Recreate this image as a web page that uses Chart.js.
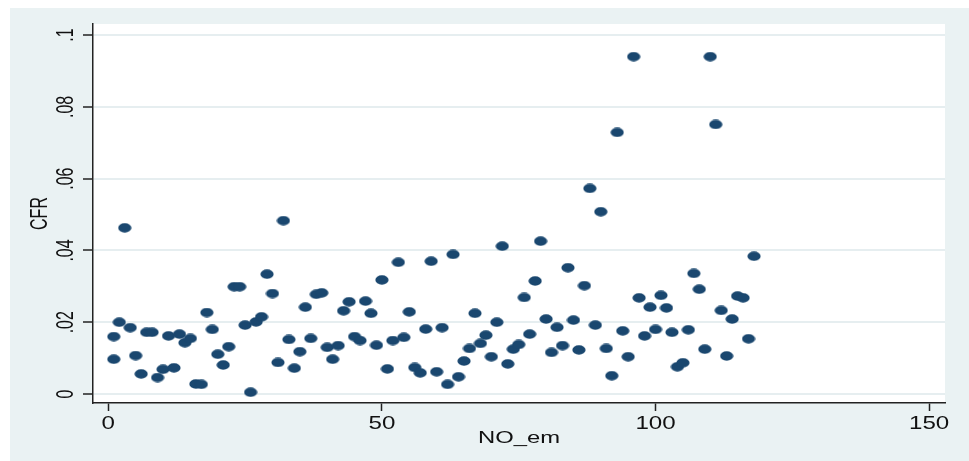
<!DOCTYPE html>
<html>
<head>
<meta charset="utf-8">
<title>CFR vs NO_em</title>
<script src="https://cdn.jsdelivr.net/npm/chart.js@4.4.1/dist/chart.umd.min.js"></script>
<style>
  html, body { margin: 0; padding: 0; background: #ffffff; }
  #wrap {
    position: absolute;
    left: 10px;
    top: 8px;
    width: 959px;
    height: 453px;
    background: #eaf2f3;
  }
</style>
</head>
<body>
<div id="wrap"><canvas id="cfrChart" width="959" height="453"></canvas></div>
<script>
// data
const xValues = [
  1, 1, 2, 3, 4, 5, 6, 7, 8, 9, 10, 11, 12, 13, 14, 15, 16, 17, 18, 19, 20,
  21, 22, 23, 24, 25, 26, 27, 28, 29, 30, 31, 32, 33, 34, 35, 36, 37, 38, 39, 40,
  41, 42, 43, 44, 45, 46, 47, 48, 49, 50, 51, 52, 53, 54, 55, 56, 57, 58, 59, 60,
  61, 62, 63, 64, 65, 66, 67, 68, 69, 70, 71, 72, 73, 74, 75, 76, 77, 78, 79, 80,
  81, 82, 83, 84, 85, 86, 87, 88, 89, 90, 91, 92, 93, 94, 95, 96, 97, 98, 99, 100,
  101, 102, 103, 104, 105, 106, 107, 108, 109, 110, 111, 112, 113, 114, 115, 116, 117, 118
];
const cfrValues = [
  0.0160, 0.0097, 0.0200, 0.0463, 0.0185, 0.0107, 0.0056, 0.0172, 0.0172, 0.0046, 0.0069,
  0.0162, 0.0073, 0.0167, 0.0143, 0.0155, 0.0028, 0.0027, 0.0227, 0.0180, 0.0111,
  0.0081, 0.0132, 0.0299, 0.0299, 0.0192, 0.0005, 0.0201, 0.0215, 0.0334, 0.0280,
  0.0088, 0.0483, 0.0152, 0.0072, 0.0118, 0.0242, 0.0155, 0.0278, 0.0282, 0.0130,
  0.0097, 0.0135, 0.0232, 0.0257, 0.0160, 0.0149, 0.0259, 0.0225, 0.0136, 0.0318,
  0.0070, 0.0149, 0.0367, 0.0158, 0.0229, 0.0074, 0.0059, 0.0181, 0.0370, 0.0062,
  0.0185, 0.0027, 0.0389, 0.0048, 0.0092, 0.0127, 0.0225, 0.0141, 0.0164, 0.0104,
  0.0200, 0.0412, 0.0084, 0.0125, 0.0138, 0.0269, 0.0167, 0.0315, 0.0426, 0.0209,
  0.0116, 0.0186, 0.0135, 0.0352, 0.0206, 0.0123, 0.0302, 0.0573, 0.0192, 0.0508,
  0.0127, 0.0051, 0.0729, 0.0176, 0.0104, 0.0940, 0.0268, 0.0162, 0.0242, 0.0180,
  0.0275, 0.0240, 0.0172, 0.0076, 0.0087, 0.0179, 0.0336, 0.0292, 0.0125, 0.0940,
  0.0751, 0.0233, 0.0106, 0.0209, 0.0273, 0.0268, 0.0154, 0.0384
];
const xTicks = [0, 50, 100, 150];
const xTickLabels = ["0", "50", "100", "150"];
const yTicks = [0, 0.02, 0.04, 0.06, 0.08, 0.1];
const yTickLabels = ["0", ".02", ".04", ".06", ".08", ".1"];
const xTitle = "NO_em";
const yTitle = "CFR";

const navy = "#1a476f";
const textColor = "#111111";
const fontFamily = "'Liberation Sans', Arial, sans-serif";

// slightly wide markers, like the stretched original
const makeMarker = () => {
  let c = document.createElement("canvas");
  c.width = 14;
  c.height = 10;
  let g = c.getContext("2d");
  g.fillStyle = navy;
  g.beginPath();
  g.ellipse(7, 5, 6.6, 4.7, 0, 0, Math.PI * 2);
  g.fill();
  return c;
};

const points = xValues.map((x, i) => ({ x: x, y: cfrValues[i] }));

// white plot region on the blue-grey graph region
const plotBg = {
  id: "plotBg",
  beforeDraw(chart) {
    const a = chart.chartArea;
    const ctx = chart.ctx;
    ctx.save();
    ctx.fillStyle = "#ffffff";
    ctx.fillRect(a.left, a.top, a.right - a.left, a.bottom - a.top);
    ctx.restore();
  },
};

// Stata-like labels: wide glyphs, rotated y labels
const stataText = {
  id: "stataText",
  afterDraw(chart) {
    const ctx = chart.ctx;
    const a = chart.chartArea;
    const xs = chart.scales.x;
    const ys = chart.scales.y;
    ctx.save();
    ctx.fillStyle = textColor;

    // x tick labels
    ctx.font = "19px " + fontFamily;
    ctx.textAlign = "center";
    ctx.textBaseline = "alphabetic";
    xTicks.forEach((v, i) => {
      ctx.save();
      ctx.translate(xs.getPixelForValue(v), a.bottom + 26);
      ctx.scale(1.27, 1);
      ctx.fillText(xTickLabels[i], 0, 0);
      ctx.restore();
    });

    // x title
    ctx.font = "17px " + fontFamily;
    ctx.save();
    ctx.translate((a.left + a.right) / 2, a.bottom + 40);
    ctx.scale(1.4, 1);
    ctx.fillText(xTitle, 0, 0);
    ctx.restore();

    // y tick labels, reading upwards
    ctx.font = "16px " + fontFamily;
    yTicks.forEach((v, i) => {
      ctx.save();
      ctx.translate(63, ys.getPixelForValue(v));
      ctx.rotate(-Math.PI / 2);
      ctx.scale(1, 1.5);
      ctx.fillText(yTickLabels[i], 0, 0);
      ctx.restore();
    });

    // y title
    ctx.save();
    ctx.translate(37, (a.top + a.bottom) / 2);
    ctx.rotate(-Math.PI / 2);
    ctx.scale(1, 1.55);
    ctx.fillText(yTitle, 0, 0);
    ctx.restore();

    ctx.restore();
  },
};

const ctx = document.getElementById("cfrChart").getContext("2d");

new Chart(ctx, {
  type: "scatter",
  data: {
    datasets: [
      {
        label: "CFR",
        data: points,
        pointStyle: makeMarker(),
        pointRadius: 6,
        backgroundColor: navy,
        borderColor: navy,
      },
    ],
  },
  options: {
    animation: false,
    responsive: false,
    layout: { padding: { left: 0, top: 16, right: 24, bottom: 0 } },
    plugins: {
      legend: { display: false },
      tooltip: { enabled: false },
    },
    scales: {
      x: {
        type: "linear",
        min: -2.8,
        max: 152.9,
        afterBuildTicks: (scale) => {
          scale.ticks = xTicks.map((v) => ({ value: v }));
        },
        afterFit: (scale) => {
          scale.height = 58;
        },
        ticks: { display: false },
        grid: {
          drawOnChartArea: false,
          drawTicks: true,
          tickLength: 8,
          tickColor: "#222222",
          tickWidth: 1.5,
        },
        border: { display: true, color: "#222222", width: 1.5 },
      },
      y: {
        type: "linear",
        min: -0.0025,
        max: 0.1031,
        afterBuildTicks: (scale) => {
          scale.ticks = yTicks.map((v) => ({ value: v }));
        },
        afterFit: (scale) => {
          scale.width = 83;
        },
        ticks: { display: false },
        grid: {
          color: "#e6eef0",
          lineWidth: 2,
          drawTicks: true,
          tickLength: 10,
          tickColor: "#222222",
          tickWidth: 1.5,
        },
        border: { display: true, color: "#222222", width: 1.5 },
      },
    },
  },
  plugins: [plotBg, stataText],
});
</script>
</body>
</html>
